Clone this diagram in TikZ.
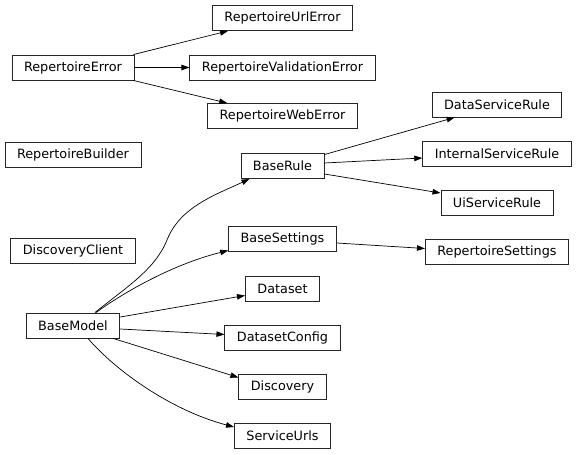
\documentclass[tikz,border=0pt]{standalone}
\usepackage{fontspec}
\setmainfont{DejaVu Sans}
\usetikzlibrary{arrows.meta,calc}
\begin{document}
\begin{tikzpicture}[x=1pt,y=-1pt,
  cls/.style={draw=black!85,line width=0.9pt,inner xsep=12pt,inner ysep=0pt,minimum height=25pt,
    font=\fontsize{12.8}{15}\selectfont,text=black},
  inh/.style={draw=black,line width=0.7pt,-{Triangle[length=8pt,width=5.5pt]}}]
\useasboundingbox (0,0) rectangle (579,455);
% rank 0
\node[cls] (re)  at (73,67.5)  {RepertoireError};
\node[cls] (rb)  at (73,155)   {RepertoireBuilder};
\node[cls] (dc)  at (73,251)   {DiscoveryClient};
\node[cls] (bm)  at (73,325.5) {BaseModel};
% rank 1
\node[cls] (url) at (282.5,18)    {RepertoireUrlError};
\node[cls] (val) at (282.5,67.5)  {RepertoireValidationError};
\node[cls] (web) at (282.5,116)   {RepertoireWebError};
\node[cls] (br)  at (282.5,166)   {BaseRule};
\node[cls] (bs)  at (282.5,238.5) {BaseSettings};
\node[cls] (ds)  at (282.5,288.5) {Dataset};
\node[cls] (dsc) at (282.5,337.5) {DatasetConfig};
\node[cls] (dis) at (282.5,386.5) {Discovery};
\node[cls] (su)  at (282.5,435.5) {ServiceUrls};
% rank 2
\node[cls] (dsr) at (497,104.5) {DataServiceRule};
\node[cls] (isr) at (497,153.5) {InternalServiceRule};
\node[cls] (usr) at (497,202.5) {UiServiceRule};
\node[cls] (rs)  at (497,251.5) {RepertoireSettings};
% edges
\draw[inh] ($(re.north east)+(-1,0)$) -- ($(url.south west)+(16,0)$);
\draw[inh] (re.east) -- (val.west);
\draw[inh] ($(re.south east)+(-1,0)$) -- ($(web.north west)+(20,0)$);
\draw[inh] ($(br.north east)+(0,1.5)$) -- ($(dsr.south west)+(23,0)$);
\draw[inh] ($(br.east)+(0,-3)$) -- ($(isr.west)+(0,4.5)$);
\draw[inh] ($(br.east)+(0,8)$) -- ($(usr.west)+(0,-9.5)$);
\draw[inh] ($(bs.east)+(0,4.5)$) -- ($(rs.west)+(0,-3)$);
\draw[inh] ($(bm.north)+(22,0)$) .. controls (125,288) and (155,270) .. (167,240)
   .. controls (180,207) and (215,195) .. ($(br.south west)+(9,0)$);
\draw[inh] ($(bm.north)+(23,0)$) .. controls (120,295) and (170,265) .. ($(bs.west)+(0,12)$);
\draw[inh] ($(bm.east)+(0,-8.5)$) -- ($(ds.west)+(0,7)$);
\draw[inh] ($(bm.east)+(0,3.5)$) -- ($(dsc.west)+(0,-3)$);
\draw[inh] ($(bm.south east)+(-7,0)$) -- ($(dis.west)+(0,-9)$);
\draw[inh] ($(bm.south)+(15,0)$) .. controls (115,370) and (170,410) .. ($(su.west)+(0,-8.5)$);
\end{tikzpicture}
\end{document}
